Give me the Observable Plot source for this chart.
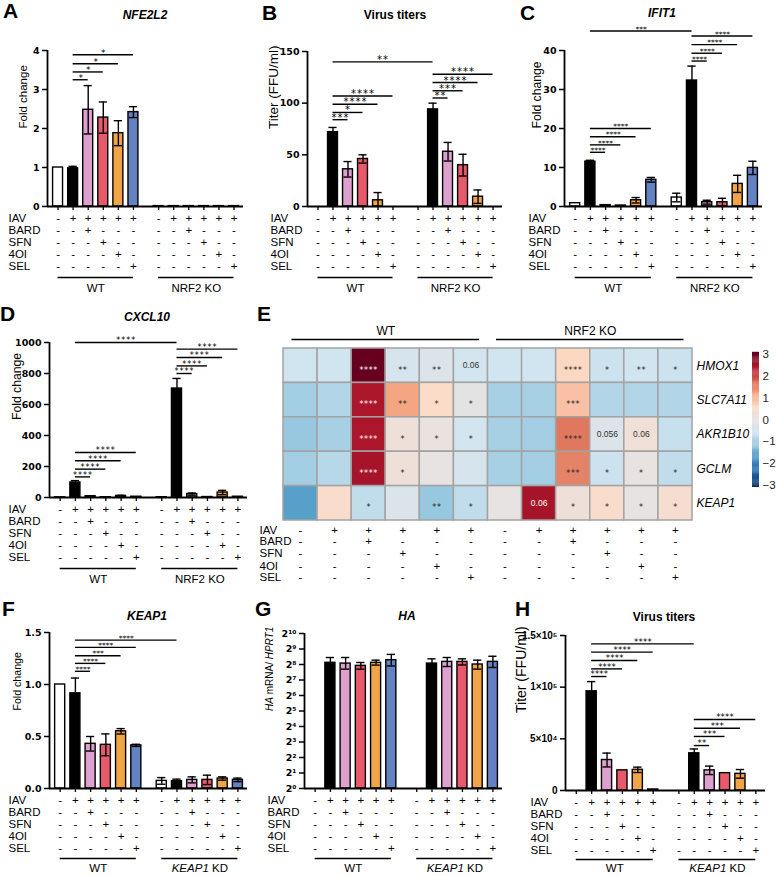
<!DOCTYPE html>
<html><head><meta charset="utf-8">
<script src="https://cdn.jsdelivr.net/npm/d3@7"></script>
<script src="https://cdn.jsdelivr.net/npm/@observablehq/plot@0.6"></script>
<style>
body{margin:0;background:#fff;-webkit-font-smoothing:antialiased;}
#fig{position:relative;width:777px;height:876px;overflow:hidden;font-family:"Liberation Sans",Arial,sans-serif;color:#000;}
.panel{position:absolute;}
.panel svg{overflow:visible;}
.letter{position:absolute;font-weight:bold;font-size:21px;line-height:1;}
.ttl{position:absolute;font-weight:bold;font-size:12px;line-height:1;transform:translateX(-50%);white-space:nowrap;}
</style></head>
<body><div id="fig"></div>
<script>
// ---------- shared categories ----------
const treatments = ["IAV", "BARD", "SFN", "4OI", "SEL"];
const signsIAV  = ["-", "+", "+", "+", "+", "+"];
const signsBARD = ["-", "-", "+", "-", "-", "-"];
const signsSFN  = ["-", "-", "-", "+", "-", "-"];
const signs4OI  = ["-", "-", "-", "-", "+", "-"];
const signsSEL  = ["-", "-", "-", "-", "-", "+"];
const signRows = [signsIAV, signsBARD, signsSFN, signs4OI, signsSEL];
const barColors = ["#ffffff", "#000000", "#dda0cf", "#e85a6b", "#f2a546", "#6481c2"];
const groupsNRF2 = ["WT", "NRF2 KO"];
const groupsKEAP1 = ["WT", "KEAP1 KD"];

// ---------- A: NFE2L2 ----------
const nfe2l2WT = [1.00, 0.98, 2.48, 2.28, 1.88, 2.42];
const nfe2l2WTErr = [0, 0.05, 0.62, 0.40, 0.32, 0.14];
const nfe2l2KO = [0.01, 0.01, 0.01, 0.01, 0.01, 0.01];
const nfe2l2KOErr = [0, 0, 0, 0, 0, 0];
const nfe2l2Sig = [[1, 2, 3.25, "*"], [1, 3, 3.45, "*"], [1, 4, 3.66, "*"], [1, 5, 3.89, "*"]];
const ticksFold4 = [0, 1, 2, 3, 4];
const labelsFold4 = ["0", "1", "2", "3", "4"];

// ---------- B: virus titers NRF2 ----------
const titerWT = [0, 72, 36, 46, 6, 0];
const titerWTErr = [0, 4.5, 7.5, 4, 7.5, 0];
const titerKO = [0, 94, 53, 40, 9.5, 0];
const titerKOErr = [0, 6, 9, 10.5, 6.5, 0];
const titerSig = [[1, 7, 140, "**"], [7, 8, 105, "**"], [7, 9, 112, "***"], [7, 10, 120, "****"], [7, 11, 128, "****"],
                  [1, 2, 84, "***"], [1, 3, 91, "*"], [1, 4, 99, "****"], [1, 5, 107, "****"]];
const ticksTiter = [0, 50, 100, 150];
const labelsTiter = ["0", "50", "100", "150"];

// ---------- C: IFIT1 ----------
const ifit1WT = [0.85, 11.5, 0.35, 0.25, 1.6, 6.85];
const ifit1WTErr = [0, 0.35, 0, 0, 0.7, 0.6];
const ifit1KO = [2.3, 32.3, 1.1, 1.1, 5.8, 9.9];
const ifit1KOErr = [1.1, 3.7, 0.5, 1.0, 2.2, 1.7];
const ifit1Sig = [[1, 7, 45, "***"], [7, 8, 37.3, "****"], [7, 9, 39.3, "****"], [7, 10, 41.5, "****"], [7, 11, 43.7, "****"],
                  [1, 2, 13.9, "****"], [1, 3, 15.8, "****"], [1, 4, 17.9, "****"], [1, 5, 20, "****"]];
const ticksIfit = [0, 10, 20, 30, 40];
const labelsIfit = ["0", "10", "20", "30", "40"];

// ---------- D: CXCL10 ----------
const cxcl10WT = [1, 97, 8, 2, 10, 5];
const cxcl10WTErr = [0, 12, 3, 0, 4, 0];
const cxcl10KO = [2, 703, 22, 3, 32, 5];
const cxcl10KOErr = [0, 65, 7, 0, 14, 0];
const cxcl10Sig = [[1, 7, 1000, "****"], [7, 8, 800, "****"], [7, 9, 849, "****"], [7, 10, 903, "****"], [7, 11, 957, "****"],
                   [1, 2, 133, "****"], [1, 3, 183, "****"], [1, 4, 237, "****"], [1, 5, 290, "****"]];
const ticksCxcl = [0, 200, 400, 600, 800, 1000];
const labelsCxcl = ["0", "200", "400", "600", "800", "1000"];

// ---------- E: heatmap ----------
const heatGenes = ["HMOX1", "SLC7A11", "AKR1B10", "GCLM", "KEAP1"];
const hmox1Z   = [-0.6, -0.6, 3.0, -0.45, -0.3, -0.55, -0.6, -0.6, 0.65, -0.65, -0.6, -0.65];
const slc7a11Z = [-1.05, -0.9, 2.45, 1.2, 0.55, -0.1, -1.0, -1.0, 0.9, -0.9, -0.9, -0.9];
const akr1b10Z = [-1.15, -1.0, 2.45, 0.2, 0.1, -0.55, -1.0, -1.05, 1.6, -0.3, 0.25, -0.7];
const gclmZ    = [-1.05, -0.85, 2.5, 0.2, 0.0, -0.45, -1.0, -1.05, 1.5, -0.65, 0.05, -0.75];
const keap1Z   = [-1.65, 0.5, -0.75, -0.35, -1.15, -0.75, 0.0, 2.5, 0.2, 0.5, 0.0, 0.4];
const hmox1Sig   = ["", "", "****", "**", "**", "0.06", "", "", "****", "*", "**", "*"];
const slc7a11Sig = ["", "", "****", "**", "*", "*", "", "", "***", "", "", ""];
const akr1b10Sig = ["", "", "****", "*", "*", "*", "", "", "****", "0.056", "0.06", ""];
const gclmSig    = ["", "", "****", "*", "", "", "", "", "***", "*", "*", "*"];
const keap1Sig   = ["", "", "*", "", "**", "*", "", "0.06", "*", "*", "*", "*"];
const heatZ = [hmox1Z, slc7a11Z, akr1b10Z, gclmZ, keap1Z];
const heatSig = [hmox1Sig, slc7a11Sig, akr1b10Sig, gclmSig, keap1Sig];
const heatStops = [-3, -2.4, -1.8, -1.2, -0.6, 0, 0.6, 1.2, 1.8, 2.4, 3];
const heatColors = ["#0b3467", "#2166ac", "#4393c3", "#92c5de", "#d1e5f0", "#e6e3e2", "#fddbc7", "#f4a582", "#d6604d", "#b2182b", "#67001f"];
const cbTicks = [3, 2, 1, 0, -1, -2, -3];
const cbLabels = ["3", "2", "1", "0", "\u22121", "\u22122", "\u22123"];

// ---------- F: KEAP1 ----------
const keap1WT = [1.0, 0.915, 0.43, 0.42, 0.55, 0.415];
const keap1WTErr = [0, 0.147, 0.07, 0.105, 0.026, 0.01];
const keap1KD = [0.073, 0.07, 0.083, 0.083, 0.096, 0.083];
const keap1KDErr = [0.032, 0.02, 0.029, 0.045, 0.016, 0.017];
const keap1BarSig = [[1, 2, 1.127, "****"], [1, 3, 1.203, "****"], [1, 4, 1.277, "***"], [1, 5, 1.357, "****"], [1, 7, 1.427, "****"]];
const ticksKeap = [0, 0.5, 1.0, 1.5];
const labelsKeap = ["0.0", "0.5", "1.0", "1.5"];

// ---------- G: HA ----------
const haWT   = [null, 276, 267, 241, 276, 311];
const haWTLo = [null, 218, 208, 208, 249, 240];
const haWTHi = [null, 350, 350, 280, 311, 402];
const haKD   = [null, 267, 288, 288, 256, 288];
const haKDLo = [null, 215, 234, 251, 208, 224];
const haKDHi = [null, 330, 350, 330, 311, 370];
const ticksHA = [1, 2, 4, 8, 16, 32, 64, 128, 256, 512, 1024];
const labelsHA = ["2\u2070", "2\u00b9", "2\u00b2", "2\u00b3", "2\u2074", "2\u2075", "2\u2076", "2\u2077", "2\u2078", "2\u2079", "2\u00b9\u2070"];

// ---------- H: virus titers KEAP1 ----------
const titerKdWT = [0, 96000, 29500, 19500, 20000, 1000];
const titerKdWTErr = [0, 9400, 6700, 0, 2600, 0];
const titerKdKD = [0, 36000, 19500, 16800, 16100, 0];
const titerKdKDErr = [0, 4200, 4100, 0, 4200, 0];
const titerKdSig = [[1, 2, 110300, "****"], [1, 3, 117700, "****"], [1, 4, 125800, "****"], [1, 5, 133900, "****"], [1, 7, 141900, "****"],
                    [7, 8, 43500, "**"], [7, 9, 52300, "***"], [7, 10, 60300, "***"], [7, 11, 68700, "****"]];
const ticksTiterKd = [0, 50000, 100000, 150000];
const labelsTiterKd = ["0", "5\u00d710\u2074", "1\u00d710\u2075", "1.5\u00d710\u2075"];

// ---------- layout helpers ----------
const FONT = "Liberation Sans, Arial, sans-serif";
const KO_SHIFT = 6.67;
const XDOM = [-0.7, 12.3];
const pos = i => (i < 6 ? i : i - 6 + KO_SHIFT);
const rowDy = [12, 24, 36, 48, 60];
const fig = document.getElementById("fig");

function fixTexts(svg, starSpacing) {
  svg.querySelectorAll("text").forEach(t => {
    const s = t.textContent;
    if (/^\*+$/.test(s)) t.setAttribute("letter-spacing", starSpacing + "px");
    else if (s === "HA mRNA/ HPRT1") t.innerHTML = '<tspan font-style="italic">HA</tspan> mRNA/ <tspan font-style="italic">HPRT1</tspan>';
    else if (s === "KEAP1 KD") t.innerHTML = '<tspan font-style="italic">KEAP1</tspan> KD';
  });
}

function place(svg, left, top, width) {
  const d = document.createElement("div");
  d.className = "panel";
  d.style.left = left + "px"; d.style.top = top + "px"; d.style.width = width + "px";
  d.appendChild(svg);
  fig.appendChild(d);
}

function barPanel(cfg) {
  const base = cfg.log ? 1 : 0;
  const gLine = cfg.groupLineDy || 71, gText = cfg.groupTextDy || 82;
  const bars = [];
  [cfg.wt, cfg.ko].forEach((vals, g) => {
    vals.forEach((v, i) => {
      let lo, hi;
      if (cfg.lo) { lo = cfg.lo[g][i]; hi = cfg.hi[g][i]; }
      else { const e = cfg.err[g][i]; lo = v - e; hi = v + e; }
      bars.push({idx: g * 6 + i, p: pos(g * 6 + i), v, lo: lo == null ? v : Math.max(lo, base), hi: hi == null ? v : hi, fill: barColors[i]});
    });
  });
  const shown = bars.filter(d => d.v != null && d.v > base);
  const errs = shown.filter(d => d.hi > d.v);
  const lowCaps = errs.filter(d => d.lo > base);
  const sig = (cfg.sig || []).map(([a, b, y, label]) => ({x1: pos(a), x2: pos(b), xm: (pos(a) + pos(b)) / 2, y, label}));
  const groups = cfg.groups.map((name, g) => ({name, x1: pos(g * 6), x2: pos(g * 6 + 5), xm: (pos(g * 6) + pos(g * 6 + 5)) / 2}));
  const marks = [
    Plot.rect(shown, {x1: d => d.p - 0.33, x2: d => d.p + 0.33, y1: () => base, y2: "v", fill: "fill", stroke: "black", strokeWidth: 1.4}),
    Plot.ruleX(errs, {x: "p", y1: "lo", y2: "hi", stroke: "black", strokeWidth: 1.4}),
    Plot.ruleY(errs, {y: "hi", x1: d => d.p - 0.27, x2: d => d.p + 0.27, stroke: "black", strokeWidth: 1.4}),
    Plot.ruleY(lowCaps, {y: "lo", x1: d => d.p - 0.27, x2: d => d.p + 0.27, stroke: "black", strokeWidth: 1.4}),
    Plot.ruleX([XDOM[0]], {y1: () => base, y2: () => cfg.domain[1], stroke: "black", strokeWidth: 1.8}),
    Plot.ruleY([base], {stroke: "black", strokeWidth: 1.8}),
    Plot.axisY(cfg.ticks, {tickFormat: d => cfg.tickLabels[cfg.ticks.indexOf(d)], tickSize: 5, tickPadding: 3,
      fontSize: cfg.tickFontSize || 9.5, fontWeight: "bold", fontFamily: cfg.tickFont || "DejaVu Sans", strokeWidth: 1.5, label: null, fill: "black"}),
    Plot.axisX(bars.map(d => d.p), {tickSize: 4, tickFormat: () => "", strokeWidth: 1.3, label: null}),
    Plot.text([cfg.ylabel], {text: d => d, frameAnchor: "left", dx: cfg.ylabelDx, rotate: -90, fontSize: cfg.ylabelSize, lineAnchor: "middle", fill: "black"}),
    Plot.ruleY(sig, {y: "y", x1: "x1", x2: "x2", stroke: "black", strokeWidth: 1.4}),
    Plot.text(sig, {x: "xm", y: "y", text: "label", dy: -cfg.starSize * 0.22, fontSize: cfg.starSize, fontFamily: "DejaVu Sans", lineAnchor: "middle", fill: "black"}),
    Plot.ruleY(groups, {y: () => base, x1: "x1", x2: "x2", dy: gLine, stroke: "black", strokeWidth: 1.3}),
    Plot.text(groups, {x: "xm", y: () => base, dy: gText, text: "name", fontSize: 11.5, lineAnchor: "middle", fill: "black"})
  ];
  signRows.forEach((row, r) => {
    marks.push(Plot.text(bars, {x: "p", y: () => base, dy: rowDy[r], text: d => row[d.idx % 6], fontSize: 11.5, lineAnchor: "middle", fill: "black"}));
    marks.push(Plot.text([treatments[r]], {text: d => d, frameAnchor: "bottom-left", dx: cfg.labelDx, dy: rowDy[r], textAnchor: "start", lineAnchor: "middle", fontSize: 11.5, fill: "black"}));
  });
  const yScale = cfg.log ? {type: "log", base: 2, domain: cfg.domain} : {type: "linear", domain: cfg.domain};
  const svg = Plot.plot({
    width: cfg.width, height: cfg.height,
    marginLeft: cfg.axisX - cfg.left, marginRight: cfg.left + cfg.width - cfg.endX,
    marginTop: cfg.yTop - cfg.top, marginBottom: cfg.top + cfg.height - cfg.yBottom,
    x: {domain: XDOM}, y: yScale, color: {type: "identity"},
    style: {fontFamily: FONT, fontSize: "11px", background: "transparent", overflow: "visible"},
    marks
  });
  fixTexts(svg, cfg.starSpacing || 0);
  place(svg, cfg.left, cfg.top, cfg.width);
}

// ---------- bar panels ----------
barPanel({left: 0, top: 0, width: 258, height: 300, axisX: 47, endX: 243, yTop: 50, yBottom: 206,
  domain: [0, 4], ticks: ticksFold4, tickLabels: labelsFold4, ylabel: "Fold change", ylabelSize: 11.5, ylabelDx: -24, labelDx: -39,
  wt: nfe2l2WT, ko: nfe2l2KO, err: [nfe2l2WTErr, nfe2l2KOErr], sig: nfe2l2Sig, groups: groupsNRF2, starSize: 9, starSpacing: 0});

barPanel({left: 255, top: 0, width: 258, height: 300, axisX: 307, endX: 502, yTop: 51, yBottom: 206,
  domain: [0, 150], ticks: ticksTiter, tickLabels: labelsTiter, ylabel: "Titer (FFU/ml)", ylabelSize: 13.5, ylabelDx: -34, labelDx: -37,
  wt: titerWT, ko: titerKO, err: [titerWTErr, titerKOErr], sig: titerSig, groups: groupsNRF2, starSize: 10, starSpacing: 1});

barPanel({left: 515, top: 0, width: 262, height: 300, axisX: 564, endX: 762, yTop: 50, yBottom: 206,
  domain: [0, 40], ticks: ticksIfit, tickLabels: labelsIfit, ylabel: "Fold change", ylabelSize: 12.2, ylabelDx: -27, labelDx: -36,
  wt: ifit1WT, ko: ifit1KO, err: [ifit1WTErr, ifit1KOErr], sig: ifit1Sig, groups: groupsNRF2, starSize: 7.5, starSpacing: 0});

barPanel({left: 0, top: 300, width: 258, height: 295, axisX: 49, endX: 247, yTop: 342, yBottom: 497,
  domain: [0, 1000], ticks: ticksCxcl, tickLabels: labelsCxcl, ylabel: "Fold change", ylabelSize: 12.2, ylabelDx: -32, labelDx: -41,
  wt: cxcl10WT, ko: cxcl10KO, err: [cxcl10WTErr, cxcl10KOErr], sig: cxcl10Sig, groups: groupsNRF2, starSize: 8, starSpacing: 1});

barPanel({left: 0, top: 595, width: 258, height: 281, axisX: 49, endX: 247, yTop: 632, yBottom: 788,
  domain: [0, 1.5], ticks: ticksKeap, tickLabels: labelsKeap, ylabel: "Fold change", ylabelSize: 10.6, ylabelDx: -32, labelDx: -41,
  groupLineDy: 70, groupTextDy: 80,
  wt: keap1WT, ko: keap1KD, err: [keap1WTErr, keap1KDErr], sig: keap1BarSig, groups: groupsKEAP1, starSize: 7.5, starSpacing: 0});

barPanel({left: 255, top: 595, width: 258, height: 281, axisX: 304, endX: 502, yTop: 633, yBottom: 788, log: true,
  domain: [1, 1024], ticks: ticksHA, tickLabels: labelsHA, ylabel: "HA mRNA/ HPRT1", ylabelSize: 10, ylabelDx: -35, labelDx: -37,
  groupLineDy: 70, groupTextDy: 80,
  wt: haWT, ko: haKD, lo: [haWTLo, haKDLo], hi: [haWTHi, haKDHi], sig: [], groups: groupsKEAP1, starSize: 8});

barPanel({left: 515, top: 595, width: 262, height: 281, axisX: 565, endX: 765, yTop: 635, yBottom: 790,
  domain: [0, 150000], ticks: ticksTiterKd, tickLabels: labelsTiterKd, ylabel: "Titer (FFU/ml)", ylabelSize: 14, ylabelDx: -44, labelDx: -35,
  tickFont: "Liberation Sans", tickFontSize: 10, groupLineDy: 69, groupTextDy: 78,
  wt: titerKdWT, ko: titerKdKD, err: [titerKdWTErr, titerKdKDErr], sig: titerKdSig, groups: groupsKEAP1, starSize: 8.5, starSpacing: 0.2});

// ---------- heatmap ----------
(function () {
  const cells = [];
  heatZ.forEach((row, r) => row.forEach((z, c) => cells.push({r, c, z, s: heatSig[r][c]})));
  const heatGroups = groupsNRF2.map((name, g) => ({name, x1: g * 6 + 0.25, x2: g * 6 + 5.75, xm: g * 6 + 3}));
  const cols = d3.range(12);
  const heatRowDy = [10, 21, 33, 45.5, 57];
  const isStar = d => /^\*+$/.test(d.s);
  const marks = [
    Plot.rect(cells, {x1: "c", x2: d => d.c + 1, y1: "r", y2: d => d.r + 1, fill: "z", stroke: "#a3a3a3", strokeWidth: 1.5}),
    Plot.text(cells.filter(d => d.s && !isStar(d) && d.z <= 2.2), {x: d => d.c + 0.5, y: d => d.r + 0.5, text: "s", fontSize: 8.5, fill: "#333", lineAnchor: "middle"}),
    Plot.text(cells.filter(d => d.s && !isStar(d) && d.z > 2.2), {x: d => d.c + 0.5, y: d => d.r + 0.5, text: "s", fontSize: 8.5, fill: "white", lineAnchor: "middle"}),
    Plot.text(cells.filter(d => isStar(d) && d.z <= 2.2), {x: d => d.c + 0.5, y: d => d.r + 0.5, text: "s", fontSize: 8, fontFamily: "DejaVu Sans", fill: "#222", lineAnchor: "middle"}),
    Plot.text(cells.filter(d => isStar(d) && d.z > 2.2), {x: d => d.c + 0.5, y: d => d.r + 0.5, text: "s", fontSize: 8, fontFamily: "DejaVu Sans", fill: "white", lineAnchor: "middle"}),
    Plot.text(heatGenes, {text: d => d, x: () => 12, y: (d, i) => i + 0.5, dx: 4, textAnchor: "start", lineAnchor: "middle", fontStyle: "italic", fontSize: 12, fill: "black"}),
    Plot.ruleY(heatGroups, {y: () => 0, x1: "x1", x2: "x2", dy: -9, stroke: "black", strokeWidth: 1.3}),
    Plot.text(heatGroups, {x: "xm", y: () => 0, dy: -17, text: "name", fontSize: 12, lineAnchor: "middle", fill: "black"})
  ];
  signRows.forEach((row, r) => {
    marks.push(Plot.text(cols, {x: d => d + 0.5, y: () => 5, dy: heatRowDy[r], text: d => row[d % 6], fontSize: 11.5, lineAnchor: "middle", fill: "black"}));
    marks.push(Plot.text([treatments[r]], {text: d => d, frameAnchor: "bottom-left", dx: -24, dy: heatRowDy[r], textAnchor: "start", lineAnchor: "middle", fontSize: 11.5, fill: "black"}));
  });
  const svg = Plot.plot({
    width: 485, height: 295, marginLeft: 28, marginRight: 48, marginTop: 48, marginBottom: 75,
    x: {domain: [0, 12], axis: null}, y: {domain: [0, 5], reverse: true, axis: null},
    color: {type: "linear", domain: heatStops, range: heatColors, interpolate: "rgb"},
    style: {fontFamily: FONT, fontSize: "11px", background: "transparent", overflow: "visible"},
    marks
  });
  svg.querySelectorAll("text").forEach(t => {
    if (/^\*+$/.test(t.textContent)) { t.setAttribute("letter-spacing", "0.6px"); t.setAttribute("dy", "0.56em"); }
  });
  place(svg, 255, 300, 485);

  // colour bar
  const steps = d3.range(-3.1, 3.1, 0.05);
  const cb = Plot.plot({
    width: 37, height: 160, marginLeft: 12, marginRight: 18, marginTop: 12, marginBottom: 13,
    x: {domain: [0, 1], axis: null}, y: {domain: [-3.1, 3.1], axis: null},
    color: {type: "linear", domain: heatStops, range: heatColors, interpolate: "rgb"},
    style: {fontFamily: FONT, fontSize: "11px", background: "transparent", overflow: "visible"},
    marks: [
      Plot.rect(steps, {x1: () => 0, x2: () => 1, y1: d => d, y2: d => d + 0.06, fill: d => d + 0.025}),
      Plot.text(cbTicks, {x: () => 1, y: d => d, dx: 3, textAnchor: "start", lineAnchor: "middle", text: d => cbLabels[cbTicks.indexOf(d)], fontSize: 11.5, fill: "#222"})
    ]
  });
  place(cb, 740, 340, 37);
})();

// ---------- letters and titles ----------
const letters = [["A", 3, 0], ["B", 262, 2], ["C", 520, 2], ["D", 0, 303], ["E", 257, 303], ["F", 2, 598], ["G", 255, 598], ["H", 515, 598]];
letters.forEach(([t, x, y]) => {
  const d = document.createElement("div"); d.className = "letter"; d.textContent = t;
  d.style.left = x + "px"; d.style.top = y + "px"; fig.appendChild(d);
});
const titles = [["NFE2L2", true, 145, 9], ["Virus titers", false, 395, 9], ["IFIT1", true, 662, 7], ["CXCL10", true, 147, 311],
                ["KEAP1", true, 147, 610], ["HA", true, 407, 610], ["Virus titers", false, 664, 611]];
titles.forEach(([t, it, x, y]) => {
  const d = document.createElement("div"); d.className = "ttl";
  if (it) { const i = document.createElement("i"); i.textContent = t; d.appendChild(i); } else d.textContent = t;
  d.style.left = x + "px"; d.style.top = y + "px"; fig.appendChild(d);
});
</script>
</body></html>
